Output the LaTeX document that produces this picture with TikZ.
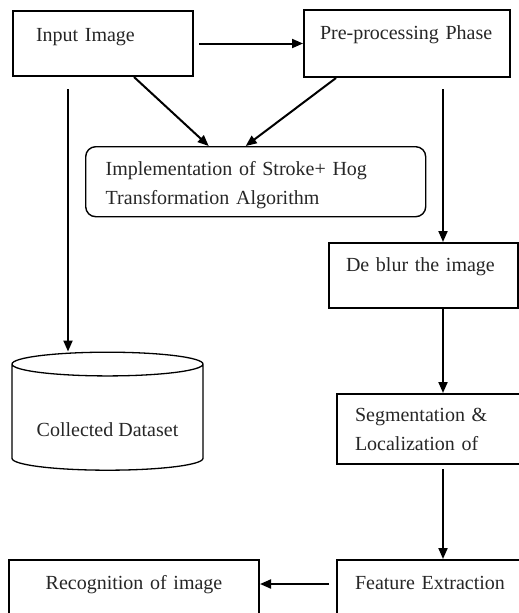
\documentclass[tikz,border=0pt]{standalone}
\usepackage{fontspec}
\setmainfont{Liberation Serif}
\usetikzlibrary{arrows.meta, shapes.geometric}

\begin{document}
\begin{tikzpicture}[x=1pt,y=-1pt,
    box/.style={draw, line width=2pt, anchor=north west, inner ysep=0pt, align=left,
        text=black!85, font=\fontsize{20}{29}\selectfont},
    arr/.style={line width=2pt, -{Triangle[length=11pt,width=9pt]}}]
    \useasboundingbox (0,0) rectangle (519,613);

    % top row
    \node[box, inner xsep=23pt, text width=134pt, text height=30pt, text depth=35pt] (inp) at (12,10) {Input Image};
    \node[box, inner xsep=16pt, text width=174pt, text height=29pt, text depth=38pt] (pre) at (303,9) {Pre-processing Phase};
    \node[box, rounded corners=10pt, line width=1.4pt, inner xsep=20pt, text width=300pt, text height=29pt, text depth=41pt] (impl) at (85,146)
        {Implementation of Stroke+ Hog\\Transformation Algorithm};

    % right column
    \node[box, inner xsep=17pt, text width=155pt, text height=28pt, text depth=37pt] (deb) at (328,242) {De blur the image};
    \node[box, inner xsep=18pt, text width=154pt, text height=27pt, text depth=43pt] (seg) at (336,393) {Segmentation \&\\Localization of};
    \node[box, inner xsep=18pt, text width=154pt, text height=29pt, text depth=40pt] (feat) at (336,559) {Feature Extraction};
    \node[box, align=center, inner xsep=10pt, text width=230pt, text height=29pt, text depth=40pt] (rec) at (8,559) {Recognition of image};

    % dataset
    \node[draw, cylinder, shape border rotate=90, aspect=0.16, minimum width=191pt, minimum height=118pt,
        line width=1.3pt, text=black!85, text height=34pt, text depth=0pt,
        font=\fontsize{20}{29}\selectfont] (db) at (107.5,419) {Collected Dataset};

    % arrows
    \draw[arr] ([xshift=5pt]inp.east) -- (pre.west);
    \draw[arr] ([xshift=31pt]inp.south) -- ([xshift=-47pt]impl.north);
    \draw[arr] ([xshift=-71pt]pre.south) -- ([xshift=-10pt]impl.north);
    \coordinate (l0) at ([shift={(56pt,-12pt)}]inp.south west);
    \draw[arr] (l0) -- (l0 |- db.north);
    \coordinate (r0) at ([shift={(140pt,-11pt)}]pre.south west);
    \draw[arr] (r0) -- (r0 |- deb.north);
    \coordinate (r1) at ([xshift=115pt]deb.south west);
    \draw[arr] (r1) -- (r1 |- seg.north);
    \coordinate (r2) at ([shift={(107pt,-4pt)}]seg.south west);
    \draw[arr] (r2) -- (r2 |- feat.north);
    \coordinate (b0) at ([shift={(-7pt,5pt)}]feat.base west);
    \draw[arr] (b0) -- (rec.east |- b0);
\end{tikzpicture}
\end{document}
